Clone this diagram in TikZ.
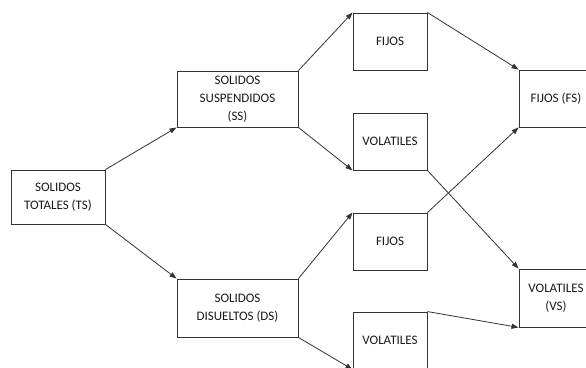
\documentclass[tikz,border=0pt]{standalone}
\usepackage{fontspec}
\setmainfont{Carlito}
\usetikzlibrary{arrows.meta}
\begin{document}
\begin{tikzpicture}[x=1pt,y=-1pt,
  box/.style={draw=black!80,line width=0.9pt,fill=white,inner sep=0pt,
    align=center,text=black!90,font=\fontsize{13}{18}\selectfont,
    minimum width=#1},
  box/.default=74pt,
  link/.style={draw=black!80,line width=0.8pt,-{Triangle[length=7pt,width=5pt]}}]
\useasboundingbox (0,0) rectangle (586,367);
\fill[white] (0,0) rectangle (586,367);
\clip (0,0) rectangle (586,367);
% source
\node[box=94pt,minimum height=54pt] (ts) at (58,197) {SOLIDOS\\TOTALES (TS)};
% first split
\node[box=121pt,minimum height=56pt] (ss) at (237.5,99) {SOLIDOS\\SUSPENDIDOS\\(SS)};
\node[box=121pt,minimum height=58pt] (ds) at (237.5,308) {SOLIDOS\\DISUELTOS (DS)};
% second split
\node[box,minimum height=57pt] (f1) at (390,41.5) {FIJOS};
\node[box,minimum height=57pt] (v1) at (390,141.5) {VOLATILES};
\node[box,minimum height=57pt] (f2) at (390,241.5) {FIJOS};
\node[box,minimum height=57pt] (v2) at (390,340.5) {VOLATILES};
% totals
\node[box,minimum height=57pt] (fs) at (556,98.5) {FIJOS (FS)};
\node[box,minimum height=58pt] (vs) at (556,298) {VOLATILES\\(VS)};
% connectors
\draw[link] (ts.north east) -- (ss.south west);
\draw[link] (ts.south east) -- (ds.north west);
\draw[link] (ss.north east) -- (f1.north west);
\draw[link] (ss.south east) -- (v1.south west);
\draw[link] (ds.north east) -- (f2.north west);
\draw[link] (ds.south east) -- (v2.south west);
\draw[link] (f1.north east) -- (fs.north west);
\draw[link] (f2.north east) -- (fs.south west);
\draw[link] (v1.south east) -- (vs.north west);
\draw[link] (v2.north east) -- (vs.south west);
\end{tikzpicture}
\end{document}
